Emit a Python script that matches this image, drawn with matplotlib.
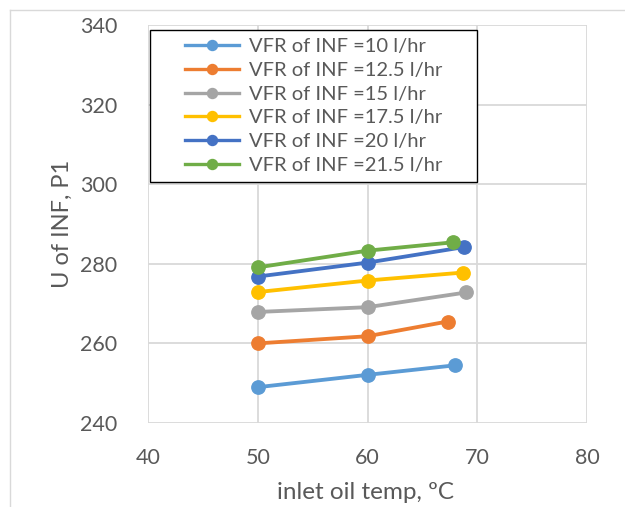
import matplotlib
matplotlib.use("Agg")
import matplotlib.pyplot as plt
from matplotlib.patches import Rectangle
from matplotlib.lines import Line2D

labels = ["VFR of INF =10 l/hr", "VFR of INF =12.5 l/hr", "VFR of INF =15 l/hr",
          "VFR of INF =17.5 l/hr", "VFR of INF =20 l/hr", "VFR of INF =21.5 l/hr"]
x_vals = [
    [50, 60, 68.0],
    [50, 60, 67.3],
    [50, 60, 69.0],
    [50, 60, 68.7],
    [50, 60, 68.8],
    [50, 60, 67.8],
]
y_vals = [
    [249.0, 252.1, 254.5],
    [260.0, 261.8, 265.5],
    [267.9, 269.1, 272.8],
    [272.9, 275.8, 277.8],
    [276.8, 280.3, 284.2],
    [279.1, 283.3, 285.4],
]
colors = ["#5B9BD5", "#ED7D31", "#A5A5A5", "#FFC000", "#4472C4", "#70AD47"]

plt.rcParams['font.family'] = ['Lato', 'DejaVu Sans']

W, H = 625, 507
fig = plt.figure(figsize=(6.25, 5.07), dpi=100)
L, R, T, B = 148, 587, 25, 423
ax = fig.add_axes([L/W, 1-B/H, (R-L)/W, (B-T)/H])

for xs, ys, c, lab in zip(x_vals, y_vals, colors, labels):
    ax.plot(xs, ys, color=c, lw=2.75, marker='o', ms=9.6, label=lab, zorder=3)

ax.set_xlim(40, 80)
ax.set_ylim(240, 340)
ax.set_xticks([40, 50, 60, 70, 80])
ax.set_yticks([240, 260, 280, 300, 320, 340])
ax.grid(True, color='#d9d9d9', lw=1.3, zorder=0)
for s in ax.spines.values():
    s.set_visible(False)
ax.tick_params(length=0, labelsize=15.5, colors='#595959')
ax.tick_params(axis='y', pad=22)
ax.tick_params(axis='x', pad=18)

ax.set_ylabel("U of INF, P1", fontsize=17, color='#595959')
ax.yaxis.set_label_coords((73-L)/(R-L), 0.5)
ax.set_xlabel("inlet oil temp, ºC", fontsize=17.5, color='#595959')
ax.xaxis.set_label_coords(((273+458)/2-L)/(R-L), -(482-B)/(B-T))

# legend box
bx0, bx1 = (150-L)/(R-L), (477-L)/(R-L)
by0, by1 = (B-182)/(B-T), (B-30)/(B-T)
rect = Rectangle((bx0, by0), bx1-bx0, by1-by0, transform=ax.transAxes,
                 facecolor='white', edgecolor='black', lw=1.0, zorder=4)
ax.add_patch(rect)
leg_handles = [Line2D([], [], color=c, lw=2.4, marker='o', ms=7.2) for c in colors]
leg = ax.legend(leg_handles, labels, loc='center', bbox_to_anchor=((bx0+bx1)/2, (by0+by1)/2),
                frameon=False, fontsize=14.5, handlelength=2.7, handletextpad=0.5,
                labelspacing=0.33, labelcolor='#595959')
leg.set_zorder(5)

# outer chart frame
fig.add_artist(Line2D([10/W, 10/W], [0, 1-10/H], transform=fig.transFigure, color='#d9d9d9', lw=1))
fig.add_artist(Line2D([10/W, 1], [1-10/H, 1-10/H], transform=fig.transFigure, color='#d9d9d9', lw=1))

fig.savefig("out.png", dpi=100)
